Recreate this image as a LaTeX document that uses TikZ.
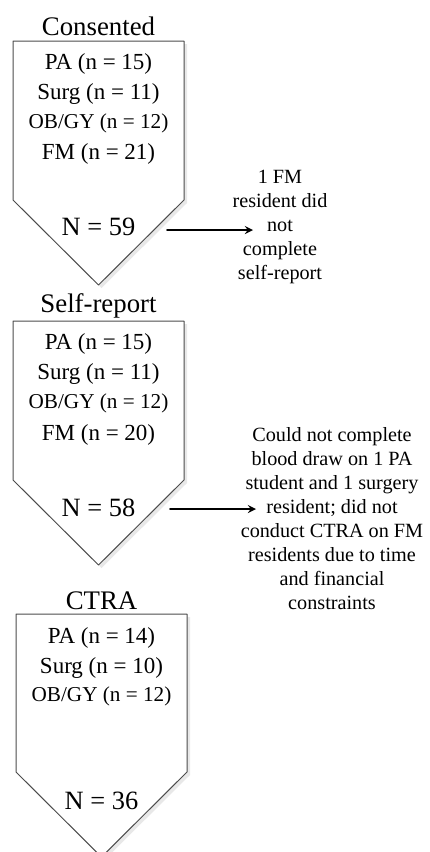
\documentclass[tikz,border=0pt]{standalone}
\usepackage{fontspec}
\setmainfont{Liberation Serif}
\usepackage{tkz-euclide}
\usetikzlibrary{shadows}

\tikzset{
  box/.style={draw=black!70, line width=0.5pt, fill=white,
    drop shadow={opacity=0.18, shadow xshift=1.5pt, shadow yshift=-1.5pt}},
  stage/.style={font=\fontsize{13.4}{15}\selectfont},
  group/.style={font=\fontsize{11.5}{13}\selectfont},
  groupsm/.style={font=\fontsize{10.6}{12}\selectfont},
  total/.style={font=\fontsize{13.2}{15}\selectfont},
  note/.style={align=center, font=\fontsize{10.1}{12}\selectfont},
}

\begin{document}
\begin{tikzpicture}[x=0.5pt, y=-0.5pt, >=stealth, line join=round, line cap=round]
	\useasboundingbox (0,0) rectangle (429,852);
	% the three stages
	\tkzDefPoints{13/41/A1,184/41/B1,184/200/C1,98.5/285/D1,13/200/E1}
	\tkzDefPoints{13/321/A2,184/321/B2,184/480/C2,98.5/565/D2,13/480/E2}
	\tkzDefPoints{16/614/A3,187/614/B3,187/772/C3,101.5/857/D3,16/772/E3}
	\tkzDrawPolygon[box](A1,B1,C1,D1,E1)
	\tkzDrawPolygon[box](A2,B2,C2,D2,E2)
	\tkzDrawPolygon[box](A3,B3,C3,D3,E3)
	\node[stage] (cons) at (98.5,26) {Consented};
	\node[group] (cpa) at (98.5,64) {PA (n = 15)};
	\node[group] (csu) at (98.5,94) {Surg (n = 11)};
	\node[groupsm] (cob) at (98.5,123) {OB/GY (n = 12)};
	\node[group] (cfm) at (98.5,154) {FM (n = 21)};
	\node[total] (ctot) at (98.5,227) {N = 59};
	\node[stage] (self) at (98.5,306) {Self-report};
	\node[group] (spa) at (98.5,344) {PA (n = 15)};
	\node[group] (ssu) at (98.5,374) {Surg (n = 11)};
	\node[groupsm] (sob) at (98.5,403) {OB/GY (n = 12)};
	\node[group] (sfm) at (98.5,435) {FM (n = 20)};
	\node[total] (stot) at (98.5,508) {N = 58};
	\node[stage] (ctra) at (101.5,601) {CTRA};
	\node[group] (tpa) at (101.5,638) {PA (n = 14)};
	\node[group] (tsu) at (101.5,668) {Surg (n = 10)};
	\node[groupsm] (tob) at (101.5,696) {OB/GY (n = 12)};
	\node[total] (ttot) at (101.5,801) {N = 36};
	% drop-outs
	\node[note] (n1) at (280,227) {1 FM\\resident did\\not\\complete\\self-report};
	\node[note] (n2) at (332,518.5) {Could not complete\\blood draw on 1 PA\\student and 1 surgery\\resident; did not\\conduct CTRA on FM\\residents due to time\\and financial\\constraints};
	\coordinate (a1) at (167,230);
	\coordinate (b1) at (253,230);
	\coordinate (a2) at (170,509);
	\coordinate (b2) at (256,509);
	\draw[->, line width=0.8pt] (a1) -- (b1);
	\draw[->, line width=0.8pt] (a2) -- (b2);
\end{tikzpicture}
\end{document}
